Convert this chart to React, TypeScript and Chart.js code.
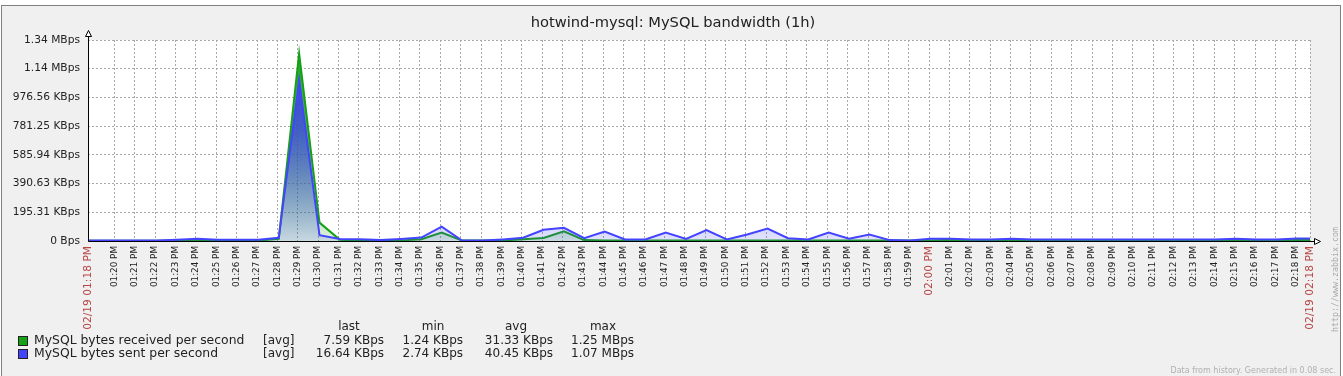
import React, { useEffect, useRef } from "react";
import { Chart, registerables } from "chart.js";

Chart.register(...registerables);

const chartTitle = "hotwind-mysql: MySQL bandwidth (1h)";
const graphDate = "02/19";
const rangeStart = "13:18:42";
const rangeEnd = "14:18:42";

const sampleTimes = [
  "13:18:04", "13:19:04", "13:20:04", "13:21:04", "13:22:04", "13:23:04", "13:24:04", "13:25:04", "13:26:04", "13:27:04",
  "13:28:04", "13:29:04", "13:30:04", "13:31:04", "13:32:04", "13:33:04", "13:34:04", "13:35:04", "13:36:04", "13:37:04",
  "13:38:04", "13:39:04", "13:40:04", "13:41:04", "13:42:04", "13:43:04", "13:44:04", "13:45:04", "13:46:04", "13:47:04",
  "13:48:04", "13:49:04", "13:50:04", "13:51:04", "13:52:04", "13:53:04", "13:54:04", "13:55:04", "13:56:04", "13:57:04",
  "13:58:04", "13:59:04", "14:00:04", "14:01:04", "14:02:04", "14:03:04", "14:04:04", "14:05:04", "14:06:04", "14:07:04",
  "14:08:04", "14:09:04", "14:10:04", "14:11:04", "14:12:04", "14:13:04", "14:14:04", "14:15:04", "14:16:04", "14:17:04",
  "14:18:04", "14:19:04",
];

// KBps
const receivedKBps = [
  1.3, 1.3, 1.24, 1.4, 1.5, 3, 5, 2, 2, 2.5,
  15, 1276, 125, 8, 3, 3, 4, 12, 57, 3,
  3, 3, 12, 21, 66, 6, 4, 4, 4, 4,
  4, 4, 4, 4, 4, 4, 4, 4, 4, 4,
  3, 3, 3, 8, 4, 4, 8, 4, 4, 4,
  4, 4, 4, 4, 4, 4, 4, 8, 4, 4,
  7.59, 7.59,
];

const sentKBps = [
  3, 3, 3, 3, 3, 9, 16, 8, 8, 8,
  22, 1095, 40, 14, 12, 6, 14, 23, 98, 3,
  3, 11, 22, 76, 90, 19, 64, 10, 10, 57,
  14, 74, 10, 44, 84, 19, 10, 57, 16, 44,
  6, 4, 16, 16, 10, 10, 16, 10, 10, 10,
  10, 10, 10, 10, 10, 10, 10, 16, 10, 10,
  16.64, 16.64,
];

const seriesNames = ["MySQL bytes received per second", "MySQL bytes sent per second"];
const seriesColors = ["#16A016", "#4444FF"];
const seriesRgb = ["22,160,22", "60,60,240"];
const legendFunc = ["[avg]", "[avg]"];
const legendHeaders = ["last", "min", "avg", "max"];
const lastValues = ["7.59 KBps", "16.64 KBps"];
const minValues = ["1.24 KBps", "2.74 KBps"];
const avgValues = ["31.33 KBps", "40.45 KBps"];
const maxValues = ["1.25 MBps", "1.07 MBps"];

const yTickLabels = [
  "0 Bps", "195.31 KBps", "390.63 KBps", "585.94 KBps",
  "781.25 KBps", "976.56 KBps", "1.14 MBps", "1.34 MBps",
];
const yMaxKBps = 1367.1875;
const footerText = "Data from history. Generated in 0.08 sec.";
const watermark = "http://www.zabbix.com";

const FONT = "DejaVu Sans";

function toMin(t: string): number {
  const [h, m, s] = t.split(":").map(Number);
  return h * 60 + m + s / 60;
}

function fmtClock(v: number): string {
  const h = Math.floor(v / 60);
  const m = Math.floor(v % 60 + 1e-6);
  const h12 = h % 12 === 0 ? 12 : h % 12;
  const ap = h >= 12 ? "PM" : "AM";
  return `${String(h12).padStart(2, "0")}:${String(m).padStart(2, "0")} ${ap}`;
}

const startMin = toMin(rangeStart);
const endMin = toMin(rangeEnd);

function isRed(v: number): boolean {
  return Math.abs(v - startMin) < 1e-6 || Math.abs(v - endMin) < 1e-6 || Math.abs(v % 60) < 1e-6;
}
function isEdge(v: number): boolean {
  return Math.abs(v - startMin) < 1e-6 || Math.abs(v - endMin) < 1e-6;
}

const makeFill = (rgb: string) => (ctx: any) => {
  const a = ctx.chart.chartArea;
  if (!a) return `rgba(${rgb},0.15)`;
  const g = ctx.chart.ctx.createLinearGradient(0, a.top, 0, a.bottom);
  g.addColorStop(0, `rgba(${rgb},0.98)`);
  g.addColorStop(0.45, `rgba(${rgb},0.72)`);
  g.addColorStop(0.8, `rgba(${rgb},0.35)`);
  g.addColorStop(1, `rgba(${rgb},0.14)`);
  return g;
};

const decor = {
  id: "zbxDecor",
  beforeDraw(chart: any) {
    const { ctx, width, height, chartArea: a } = chart;
    ctx.save();
    ctx.fillStyle = "#ffffff";
    ctx.fillRect(0, 0, width, height);
    ctx.fillStyle = "#f0f0f0";
    ctx.fillRect(1, 5, 1340, height - 5);
    ctx.strokeStyle = "#808080";
    ctx.lineWidth = 1;
    ctx.strokeRect(1.5, 5.5, 1339, height + 5);
    ctx.fillStyle = "#ffffff";
    ctx.fillRect(a.left, a.top, a.right - a.left, a.bottom - a.top);
    ctx.restore();
  },
  afterDraw(chart: any) {
    const { ctx, chartArea: a } = chart;
    ctx.save();
    // title
    ctx.fillStyle = "#222";
    ctx.font = `14.67px "${FONT}"`;
    ctx.textAlign = "center";
    ctx.textBaseline = "middle";
    ctx.fillText(chartTitle, 673, 23);

    // axes
    ctx.strokeStyle = "#000";
    ctx.lineWidth = 1;
    const ax = Math.round(a.left) + 0.5;
    const ay = Math.round(a.bottom) + 0.5;
    ctx.beginPath();
    ctx.moveTo(ax, ay);
    ctx.lineTo(ax, a.top - 4);
    ctx.moveTo(ax, ay);
    ctx.lineTo(a.right + 5, ay);
    ctx.stroke();
    // arrows
    ctx.fillStyle = "#fff";
    ctx.beginPath();
    ctx.moveTo(ax - 3, a.top - 3.5);
    ctx.lineTo(ax, a.top - 9.5);
    ctx.lineTo(ax + 3, a.top - 3.5);
    ctx.closePath();
    ctx.fill();
    ctx.stroke();
    ctx.beginPath();
    ctx.moveTo(a.right + 4.5, ay - 3);
    ctx.lineTo(a.right + 10.5, ay);
    ctx.lineTo(a.right + 4.5, ay + 3);
    ctx.closePath();
    ctx.fill();
    ctx.stroke();

    // legend
    ctx.fillStyle = "#222";
    ctx.font = `12px "${FONT}"`;
    ctx.textBaseline = "middle";
    const colRight = [384, 463, 553, 634];
    const colHead = [349, 433, 516, 603];
    ctx.textAlign = "center";
    legendHeaders.forEach((h, i) => ctx.fillText(h, colHead[i], 327));
    const rowY = [341, 354];
    const cols = [lastValues, minValues, avgValues, maxValues];
    seriesNames.forEach((name, r) => {
      const y = rowY[r];
      ctx.fillStyle = seriesColors[r];
      ctx.fillRect(18, y - 5, 10, 10);
      ctx.strokeStyle = "#222";
      ctx.strokeRect(18.5, y - 4.5, 9, 9);
      ctx.fillStyle = "#222";
      ctx.textAlign = "left";
      ctx.font = `12.4px "${FONT}"`;
      ctx.fillText(name, 34, y);
      ctx.font = `12px "${FONT}"`;
      ctx.fillText(legendFunc[r], 263, y);
      ctx.textAlign = "right";
      cols.forEach((c, i) => ctx.fillText(c[r], colRight[i], y));
    });

    // footer
    ctx.fillStyle = "#b0b0b0";
    ctx.font = `8px "${FONT}"`;
    ctx.textAlign = "right";
    ctx.textBaseline = "middle";
    ctx.fillText(footerText, 1336, 371);

    // watermark
    ctx.translate(1335.5, 332);
    ctx.rotate(-Math.PI / 2);
    ctx.font = `8.3px "DejaVu Sans Mono"`;
    ctx.fillStyle = "#aaaaaa";
    ctx.textAlign = "left";
    ctx.fillText(watermark, 0, 0);
    ctx.restore();
  },
};

export default function App() {
  const ref = useRef<HTMLCanvasElement | null>(null);

  useEffect(() => {
    document.body.style.margin = "0";
    const canvas = ref.current;
    if (!canvas) return;
    const xs = sampleTimes.map(toMin);
    const recvPts = xs.map((x, i) => ({ x, y: receivedKBps[i] }));
    const sentPts = xs.map((x, i) => ({ x, y: sentKBps[i] }));

    const xTicks: number[] = [startMin];
    for (let m = Math.ceil(startMin); m <= Math.floor(endMin); m++) {
      if (m - startMin < 0.5) continue;
      xTicks.push(m);
    }
    xTicks.push(endMin);

    const chart = new Chart(canvas, {
      type: "line",
      data: {
        datasets: [
          {
            label: seriesNames[1],
            data: sentPts,
            borderColor: seriesColors[1],
            backgroundColor: makeFill(seriesRgb[1]),
            fill: "origin",
            borderWidth: 2,
            pointRadius: 0,
            tension: 0,
            order: 0,
          },
          {
            label: seriesNames[0],
            data: recvPts,
            borderColor: seriesColors[0],
            backgroundColor: makeFill(seriesRgb[0]),
            fill: "origin",
            borderWidth: 2,
            pointRadius: 0,
            tension: 0,
            order: 1,
          },
        ],
      },
      options: {
        animation: false,
        responsive: false,
        devicePixelRatio: 1,
        layout: { padding: { top: 40, right: 33, bottom: 0, left: 0 } },
        plugins: {
          legend: { display: false },
          title: { display: false },
          tooltip: { enabled: false },
        },
        scales: {
          x: {
            type: "linear",
            min: startMin,
            max: endMin,
            afterBuildTicks: (scale: any) => {
              scale.ticks = xTicks.map((v) => ({ value: v }));
            },
            afterFit: (scale: any) => {
              scale.height = 135;
            },
            grid: { color: "#a8a8a8", lineWidth: 1, drawTicks: false },
            border: { display: false, dash: [2, 2] },
            ticks: {
              autoSkip: false,
              minRotation: 90,
              maxRotation: 90,
              padding: 5,
              color: (c: any) => (isRed(c.tick?.value ?? 0) ? "#B84444" : "#222"),
              font: (c: any) =>
                isRed(c.tick?.value ?? 0)
                  ? { family: FONT, size: 10.67 }
                  : { family: FONT, size: 8.8 },
              callback: (v: any) => {
                const n = Number(v);
                return isEdge(n) ? `${graphDate} ${fmtClock(n)}` : fmtClock(n);
              },
            },
          },
          y: {
            type: "linear",
            min: 0,
            max: yMaxKBps,
            afterBuildTicks: (scale: any) => {
              const t = [];
              for (let i = 0; i <= 14; i++) t.push({ value: (yMaxKBps / 14) * i });
              scale.ticks = t;
            },
            afterFit: (scale: any) => {
              scale.width = 88;
            },
            grid: { color: "#a8a8a8", lineWidth: 1, drawTicks: false },
            border: { display: false, dash: [2, 2] },
            ticks: {
              padding: 8,
              color: "#222",
              font: { family: FONT, size: 10.67 },
              callback: (_v: any, i: number) => (i % 2 === 0 ? yTickLabels[i / 2] : ""),
            },
          },
        },
      },
      plugins: [decor],
    } as any);

    return () => chart.destroy();
  }, []);

  return (
    <div style={{ position: "absolute", left: 0, top: 0, width: 1343, height: 376 }}>
      <canvas ref={ref} width={1343} height={376} style={{ display: "block", width: 1343, height: 376 }} />
    </div>
  );
}
